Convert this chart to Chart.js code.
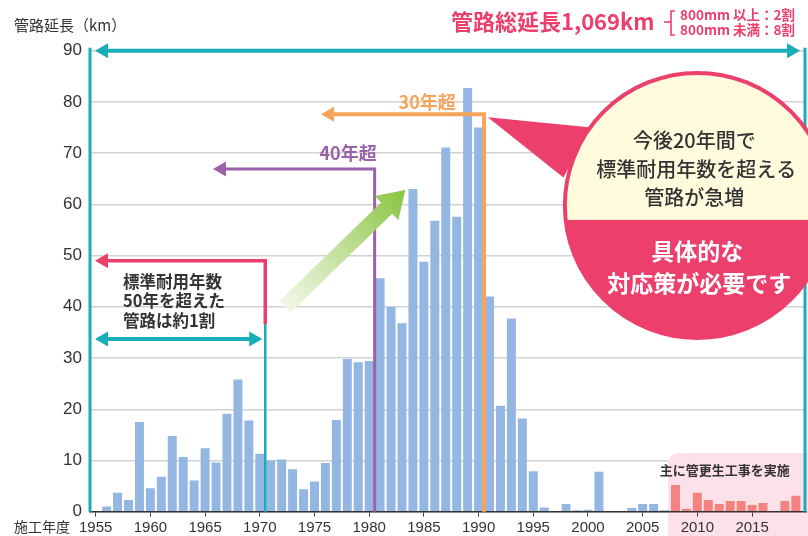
<!DOCTYPE html>
<html>
<head>
<meta charset="utf-8">
<script src="https://cdn.jsdelivr.net/npm/chart.js@4.4.1/dist/chart.umd.min.js"></script>
<style>
  html, body { margin: 0; padding: 0; background: #fff; }
  #wrap { position: relative; width: 808px; height: 536px; }
</style>
</head>
<body>
<div id="wrap"><canvas id="pipe-chart" width="808" height="536"></canvas></div>
<script>
// 施工年度
const years = [
  1955, 1956, 1957, 1958, 1959, 1960, 1961, 1962, 1963, 1964,
  1965, 1966, 1967, 1968, 1969, 1970, 1971, 1972, 1973, 1974,
  1975, 1976, 1977, 1978, 1979, 1980, 1981, 1982, 1983, 1984,
  1985, 1986, 1987, 1988, 1989, 1990, 1991, 1992, 1993, 1994,
  1995, 1996, 1997, 1998, 1999, 2000, 2001, 2002, 2003, 2004,
  2005, 2006, 2007, 2008, 2009, 2010, 2011, 2012, 2013, 2014,
  2015, 2016, 2017, 2018, 2019
];
// 管路延長 (km)
const lengths = [
  0, 1.0, 3.7, 2.3, 17.5, 4.6, 6.8, 14.8, 10.7, 6.1,
  12.4, 9.6, 19.1, 25.8, 17.8, 11.3, 10.0, 10.2, 8.3, 4.4,
  5.9, 9.5, 17.9, 29.8, 29.2, 29.4, 45.6, 40.0, 36.8, 63.0,
  48.8, 56.8, 71.1, 57.6, 82.7, 75.0, 42.0, 20.7, 37.7, 18.2,
  7.9, 0.8, 0, 1.5, 0.3, 0.4, 7.8, 0, 0, 0.7,
  1.5, 1.5, 0.3, 5.2, 0.6, 3.7, 2.3, 1.5, 2.1, 2.1,
  1.3, 1.7, 0, 2.1, 3.1
];
const rehabFrom = 2008; // 管更生工事の年
const xTickYears = [1955, 1960, 1965, 1970, 1975, 1980, 1985, 1990, 1995, 2000, 2005, 2010, 2015];
const yTickValues = [0, 10, 20, 30, 40, 50, 60, 70, 80, 90];

const JP = '"Noto Sans CJK JP", sans-serif';
const NUM = '"Liberation Sans", Arial, sans-serif';
const CYAN = '#17adb9', RED = '#ec3f6b', PURPLE = '#9a62a8', ORANGE = '#f6a45c';

function poly(ctx, pts, fill) {
  ctx.beginPath();
  pts.forEach((p, i) => i ? ctx.lineTo(p[0], p[1]) : ctx.moveTo(p[0], p[1]));
  ctx.closePath();
  ctx.fillStyle = fill;
  ctx.fill();
}
function stroke(ctx, pts, color, w) {
  ctx.beginPath();
  pts.forEach((p, i) => i ? ctx.lineTo(p[0], p[1]) : ctx.moveTo(p[0], p[1]));
  ctx.strokeStyle = color;
  ctx.lineWidth = w;
  ctx.lineJoin = 'miter';
  ctx.lineCap = 'butt';
  ctx.stroke();
}
// arrow head, tip at (x,y), pointing left (dir=-1) or right (dir=1)
function head(ctx, x, y, dir, color) {
  poly(ctx, [[x, y], [x - dir * 13, y - 7.5], [x - dir * 13, y + 7.5]], color);
}
function text(ctx, str, x, y, font, color, align) {
  ctx.font = font;
  ctx.fillStyle = color;
  ctx.textAlign = align || 'left';
  ctx.textBaseline = 'middle';
  ctx.fillText(str, x, y);
}

const decorations = {
  id: 'decorations',
  beforeDatasetsDraw(chart) {
    const ctx = chart.ctx, X = v => chart.scales.x.getPixelForValue(v), Y = v => chart.scales.y.getPixelForValue(v);
    // 管更生工事 の背景
    ctx.save();
    ctx.beginPath();
    ctx.roundRect(X(2007.3), Y(11.45), 160, 120, 11);
    ctx.fillStyle = '#fde1ea';
    ctx.fill();
    ctx.restore();
  },
  afterDraw(chart) {
    const ctx = chart.ctx, a = chart.chartArea;
    const X = v => chart.scales.x.getPixelForValue(v), Y = v => chart.scales.y.getPixelForValue(v);
    ctx.save();

    // axis titles
    text(ctx, '管路延長（km）', 14, 25, '15px ' + JP, '#333');
    text(ctx, '施工年度', 14, 527, '14px ' + JP, '#333');

    // total length header
    text(ctx, '管路総延長1,069km', 451, 22, 'bold 22px ' + JP, RED);
    stroke(ctx, [[675, 11], [671, 11], [671, 35], [675, 35]], RED, 1.6);
    stroke(ctx, [[664, 22], [671, 22]], RED, 1.6);
    text(ctx, '800mm 以上：2割', 680, 15, 'bold 13.5px ' + JP, RED);
    text(ctx, '800mm 未満：8割', 680, 30, 'bold 13.5px ' + JP, RED);

    // whole-range cyan frame
    stroke(ctx, [[a.left, a.top - 3], [a.left, a.bottom]], CYAN, 3);
    stroke(ctx, [[a.right - 1, a.top - 3], [a.right - 1, a.bottom]], CYAN, 3);
    stroke(ctx, [[a.left + 16, Y(90)], [a.right - 16, Y(90)]], CYAN, 4);
    head(ctx, a.left + 5, Y(90), -1, CYAN);
    head(ctx, a.right - 6, Y(90), 1, CYAN);

    // 50年超
    const b50 = X(1970.5), b40 = X(1980.5), b30 = X(1990.5);
    stroke(ctx, [[b50, Y(36.6)], [b50, a.bottom]], CYAN, 2.5);
    stroke(ctx, [[a.left + 16, Y(49)], [b50, Y(49)], [b50, Y(36.6)]], RED, 3.5);
    head(ctx, a.left + 5, Y(49), -1, RED);
    stroke(ctx, [[a.left + 16, Y(33.7)], [b50 - 14, Y(33.7)]], CYAN, 4);
    head(ctx, a.left + 5, Y(33.7), -1, CYAN);
    head(ctx, b50 - 3, Y(33.7), 1, CYAN);
    ['標準耐用年数', '50年を超えた', '管路は約1割'].forEach((s, i) => {
      text(ctx, s, X(1957.5), Y(44.9) + i * 19.3, 'bold 16.5px ' + JP, '#333');
    });

    // 40年超
    stroke(ctx, [[X(1965.72) + 11, Y(66.9)], [b40, Y(66.9)], [b40, a.bottom]], PURPLE, 3);
    head(ctx, X(1965.72), Y(66.9), -1, PURPLE);
    text(ctx, '40年超', b40 + 2, Y(70), 'bold 18px ' + JP, PURPLE, 'right');

    // 30年超
    stroke(ctx, [[X(1975.6) + 11, Y(77.6)], [b30, Y(77.6)], [b30, a.bottom]], ORANGE, 4);
    head(ctx, X(1975.6), Y(77.6), -1, ORANGE);
    text(ctx, '30年超', X(1985.3), Y(80), 'bold 18px ' + JP, ORANGE, 'center');

    // green trend arrow
    const t0 = [X(1972.3), Y(40.0)], t1 = [X(1983.3), Y(62.8)];
    const dx = t1[0] - t0[0], dy = t1[1] - t0[1], len = Math.hypot(dx, dy);
    const ux = dx / len, uy = dy / len, nx = -uy, ny = ux;
    const hb = [t1[0] - ux * 26, t1[1] - uy * 26];
    const g = ctx.createLinearGradient(t0[0], t0[1], t1[0], t1[1]);
    g.addColorStop(0, 'rgba(240,246,226,0.9)');
    g.addColorStop(1, '#88c440');
    poly(ctx, [
      [t0[0] + nx * 8, t0[1] + ny * 8], [hb[0] + nx * 8, hb[1] + ny * 8], [hb[0] + nx * 17, hb[1] + ny * 17],
      t1,
      [hb[0] - nx * 17, hb[1] - ny * 17], [hb[0] - nx * 8, hb[1] - ny * 8], [t0[0] - nx * 8, t0[1] - ny * 8]
    ], g);

    // callout
    const cx = X(2010.0), cy = Y(59.8), r = 132.5, split = cy + 14.5;
    poly(ctx, [[X(1990.85), Y(77.0)], [cx - 106, cy - 78], [cx - 134, cy - 28]], RED);
    ctx.save();
    ctx.beginPath();
    ctx.arc(cx, cy, r, 0, Math.PI * 2);
    ctx.clip();
    ctx.fillStyle = '#fffbdc';
    ctx.fillRect(cx - r, cy - r, 2 * r, split - (cy - r));
    ctx.fillStyle = RED;
    ctx.fillRect(cx - r, split, 2 * r, cy + r - split);
    ctx.restore();
    ctx.beginPath();
    ctx.arc(cx, cy, r, 0, Math.PI * 2);
    ctx.strokeStyle = RED;
    ctx.lineWidth = 4;
    ctx.stroke();
    text(ctx, '今後20年間で', cx - 3, cy - 65, '500 20px ' + JP, '#333', 'center');
    text(ctx, '標準耐用年数を超える', cx - 1, cy - 36, '500 20px ' + JP, '#333', 'center');
    text(ctx, '管路が急増', cx - 3, cy - 8, '500 20px ' + JP, '#333', 'center');
    text(ctx, '具体的な', cx, cy + 46, 'bold 23px ' + JP, '#fff', 'center');
    text(ctx, '対応策が必要です', cx + 2, cy + 78, 'bold 23px ' + JP, '#fff', 'center');

    // 管更生工事 label
    text(ctx, '主に管更生工事を実施', X(2012.5), Y(8.1), 'bold 13px ' + JP, '#333', 'center');
    ctx.restore();
  }
};

new Chart(document.getElementById('pipe-chart'), {
  type: 'bar',
  data: {
    datasets: [{
      data: years.map((yr, i) => ({ x: yr, y: lengths[i] })),
      backgroundColor: c => years[c.dataIndex] >= rehabFrom ? '#f48380' : '#94b6e2',
      borderWidth: 0,
      barPercentage: 0.82,
      categoryPercentage: 1.0
    }]
  },
  options: {
    responsive: false,
    animation: false,
    layout: { padding: { top: 50.7, right: 2, left: 0, bottom: 0 } },
    plugins: { legend: { display: false }, tooltip: { enabled: false } },
    scales: {
      x: {
        type: 'linear',
        min: 1954.48,
        max: 2019.93,
        offset: false,
        afterBuildTicks: s => { s.ticks = xTickYears.map(v => ({ value: v })); },
        afterFit: s => { s.height = 24.3; },
        ticks: {
          z: 1,
          callback: v => String(v),
          autoSkip: false,
          maxRotation: 0,
          padding: 2,
          color: '#333',
          font: { family: NUM, size: 15 }
        },
        grid: { z: 1, drawOnChartArea: false, offset: false, tickLength: 5, color: '#444', lineWidth: 1 },
        border: { z: 1, color: '#333', width: 1.5 }
      },
      y: {
        min: 0,
        max: 90,
        afterBuildTicks: s => { s.ticks = yTickValues.map(v => ({ value: v })); },
        afterFit: s => { s.width = 90; },
        ticks: {
          padding: 8,
          color: '#333',
          font: { family: NUM, size: 17 }
        },
        grid: { color: '#d2d2d2', lineWidth: 1.5, drawTicks: false },
        border: { display: false }
      }
    }
  },
  plugins: [decorations]
});
</script>
</body>
</html>
